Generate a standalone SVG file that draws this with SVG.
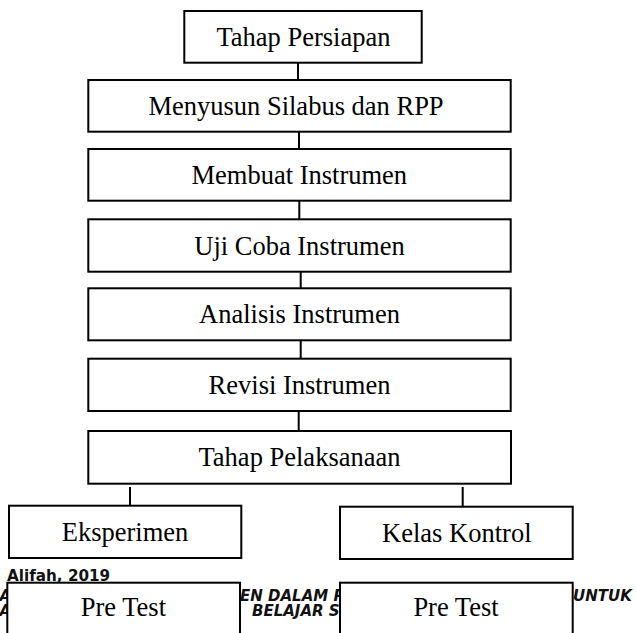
<svg xmlns="http://www.w3.org/2000/svg" width="636" height="633" viewBox="0 0 636 633">
  <style>
    .box { fill: #ffffff; stroke: #000000; stroke-width: 2; }
    .lbl { font-family: "Liberation Serif", "Times New Roman", serif; font-size: 26.5px; fill: #000000; text-anchor: middle; }
    .conn { stroke: #000000; stroke-width: 2; fill: none; }
    .note { font-family: "DejaVu Sans", sans-serif; font-size: 15.2px; font-weight: bold; fill: #111111; }
    .noteI { font-family: "DejaVu Sans", sans-serif; font-size: 15px; font-weight: bold; font-style: italic; fill: #111111; }
  </style>
  <rect x="0" y="0" width="636" height="633" fill="#ffffff"/>

  <!-- background text partly hidden by the Pre Test boxes -->
  <g id="footnote">
    <text class="note" x="7" y="581">Alifah, 2019</text>
    <text class="noteI" x="11" y="601" text-anchor="end">A</text>
    <text class="noteI" x="11" y="616" text-anchor="end">A</text>
    <text class="noteI" x="240" y="601">EN DALAM P</text>
    <text class="noteI" x="252" y="616">BELAJAR S</text>
    <text class="noteI" x="573" y="601">UNTUK</text>
  </g>

  <g id="connectors">
    <line class="conn" x1="298" y1="62.7" x2="298" y2="80"/>
    <line class="conn" x1="299" y1="131.7" x2="299" y2="149"/>
    <line class="conn" x1="299.3" y1="200.7" x2="299.3" y2="219.3"/>
    <line class="conn" x1="300.7" y1="271.7" x2="300.7" y2="288.3"/>
    <line class="conn" x1="300.7" y1="340.3" x2="300.7" y2="358.7"/>
    <line class="conn" x1="298.7" y1="411" x2="298.7" y2="431"/>
    <line class="conn" x1="130" y1="487" x2="130" y2="505.7"/>
    <line class="conn" x1="462.7" y1="487" x2="462.7" y2="506.7"/>
  </g>

  <g id="tahap-persiapan">
    <rect class="box" x="184.3" y="11" width="237.4" height="51.7"/>
    <text class="lbl" x="303.5" y="46">Tahap Persiapan</text>
  </g>
  <g id="menyusun">
    <rect class="box" x="88.3" y="80" width="422.4" height="51.7"/>
    <text class="lbl" x="296" y="115">Menyusun Silabus dan RPP</text>
  </g>
  <g id="membuat">
    <rect class="box" x="88.3" y="149" width="422.4" height="51.7"/>
    <text class="lbl" x="299.3" y="184">Membuat Instrumen</text>
  </g>
  <g id="uji-coba">
    <rect class="box" x="88.3" y="219.3" width="422.4" height="52.4"/>
    <text class="lbl" x="299.5" y="254.5">Uji Coba Instrumen</text>
  </g>
  <g id="analisis">
    <rect class="box" x="88.3" y="288.3" width="422.4" height="52"/>
    <text class="lbl" x="299.5" y="323.3">Analisis Instrumen</text>
  </g>
  <g id="revisi">
    <rect class="box" x="88.3" y="358.7" width="422.4" height="52.3"/>
    <text class="lbl" x="299.5" y="393.8">Revisi Instrumen</text>
  </g>
  <g id="tahap-pelaksanaan">
    <rect class="box" x="88.3" y="431" width="422.7" height="52.7"/>
    <text class="lbl" x="299.5" y="466.3">Tahap Pelaksanaan</text>
  </g>
  <g id="eksperimen">
    <rect class="box" x="9" y="505.7" width="232.3" height="52.3"/>
    <text class="lbl" x="125" y="540.8">Eksperimen</text>
  </g>
  <g id="kelas-kontrol">
    <rect class="box" x="340" y="506.7" width="232.7" height="52.3"/>
    <text class="lbl" x="456.8" y="541.8">Kelas Kontrol</text>
  </g>
  <g id="pre-test-eksperimen">
    <rect class="box" x="7.3" y="582.7" width="232.7" height="80"/>
    <text class="lbl" x="123.4" y="615.7">Pre Test</text>
  </g>
  <g id="pre-test-kontrol">
    <rect class="box" x="340" y="582.7" width="232.7" height="80"/>
    <text class="lbl" x="456" y="615.7">Pre Test</text>
  </g>
</svg>
